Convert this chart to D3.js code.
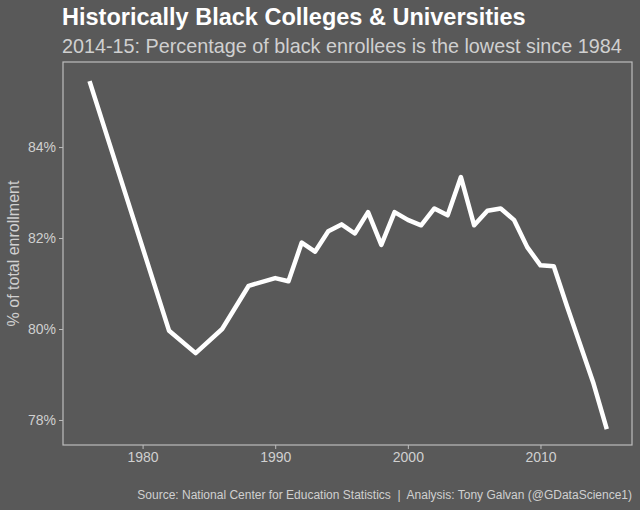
<!DOCTYPE html>
<html><head><meta charset="utf-8">
<script src="https://cdn.jsdelivr.net/npm/d3@7"></script>
<style>body{margin:0;background:#595959;font-family:"Liberation Sans",Arial,sans-serif;}</style>
</head><body>
<svg id="chart" width="640" height="510"></svg>
<script>
const years = [1976, 1982, 1984, 1986, 1988, 1990, 1991, 1992, 1993, 1994, 1995, 1996, 1997, 1998, 1999, 2000, 2001, 2002, 2003, 2004, 2005, 2006, 2007, 2008, 2009, 2010, 2011, 2012, 2014, 2015];
const pct = [85.45, 79.96, 79.47, 80.0, 80.95, 81.12, 81.05, 81.9, 81.7, 82.15, 82.3, 82.1, 82.57, 81.85, 82.57, 82.4, 82.28, 82.65, 82.5, 83.34, 82.28, 82.6, 82.65, 82.4, 81.8, 81.4, 81.38, 80.5, 78.8, 77.8];
const xTicks = [1980, 1990, 2000, 2010];
const yTicks = [78, 80, 82, 84];

const svg = d3.select("#chart");
const m = {l: 63, r: 8, t: 62, b: 65};
const W = 640, H = 510;
const x = d3.scaleLinear().domain([1974, 2016.9]).range([m.l, W - m.r]);
const y = d3.scaleLinear().domain([77.45, 85.87]).range([H - m.b, m.t]);

svg.append("rect").attr("width", W).attr("height", H).attr("fill", "#595959");
svg.append("rect").attr("x", m.l).attr("y", m.t)
    .attr("width", W - m.r - m.l).attr("height", H - m.b - m.t)
    .attr("fill", "none").attr("stroke", "#bdbdbd").attr("stroke-width", 1.2);

const xAxis = svg.append("g").attr("transform", `translate(0,${H - m.b})`)
    .call(d3.axisBottom(x).tickValues(xTicks).tickFormat(d3.format("d")).tickSize(4));
const yAxis = svg.append("g").attr("transform", `translate(${m.l},0)`)
    .call(d3.axisLeft(y).tickValues(yTicks).tickFormat(d => d + "%").tickSize(4));
[xAxis, yAxis].forEach(a => {
    a.select(".domain").remove();
    a.selectAll("line").attr("stroke", "#bdbdbd");
    a.selectAll("text").attr("fill", "#d0d0d0").style("font-size", "14px")
        .style("font-family", "Liberation Sans, Arial, sans-serif");
});

svg.append("path").datum(years.map((yr, i) => [yr, pct[i]]))
    .attr("fill", "none").attr("stroke", "white").attr("stroke-width", 4.5)
    .attr("stroke-linejoin", "round")
    .attr("d", d3.line().x(d => x(d[0])).y(d => y(d[1])));

svg.append("text").attr("x", 62).attr("y", 25).attr("fill", "white")
    .style("font-size", "23.5px").style("font-weight", "bold")
    .text("Historically Black Colleges & Universities");
svg.append("text").attr("x", 62).attr("y", 53).attr("fill", "#d0d0d0")
    .style("font-size", "19.8px")
    .text("2014-15: Percentage of black enrollees is the lowest since 1984");
svg.append("text").attr("transform", `translate(19,${(m.t + H - m.b) / 2}) rotate(-90)`)
    .attr("text-anchor", "middle").attr("fill", "#d0d0d0").style("font-size", "16px")
    .text("% of total enrollment");
svg.append("text").attr("x", 632).attr("y", 499).attr("text-anchor", "end")
    .attr("fill", "#d0d0d0").style("font-size", "12px").style("white-space", "pre")
    .text("Source: National Center for Education Statistics  |  Analysis: Tony Galvan (@GDataScience1)");
</script>
</body></html>
